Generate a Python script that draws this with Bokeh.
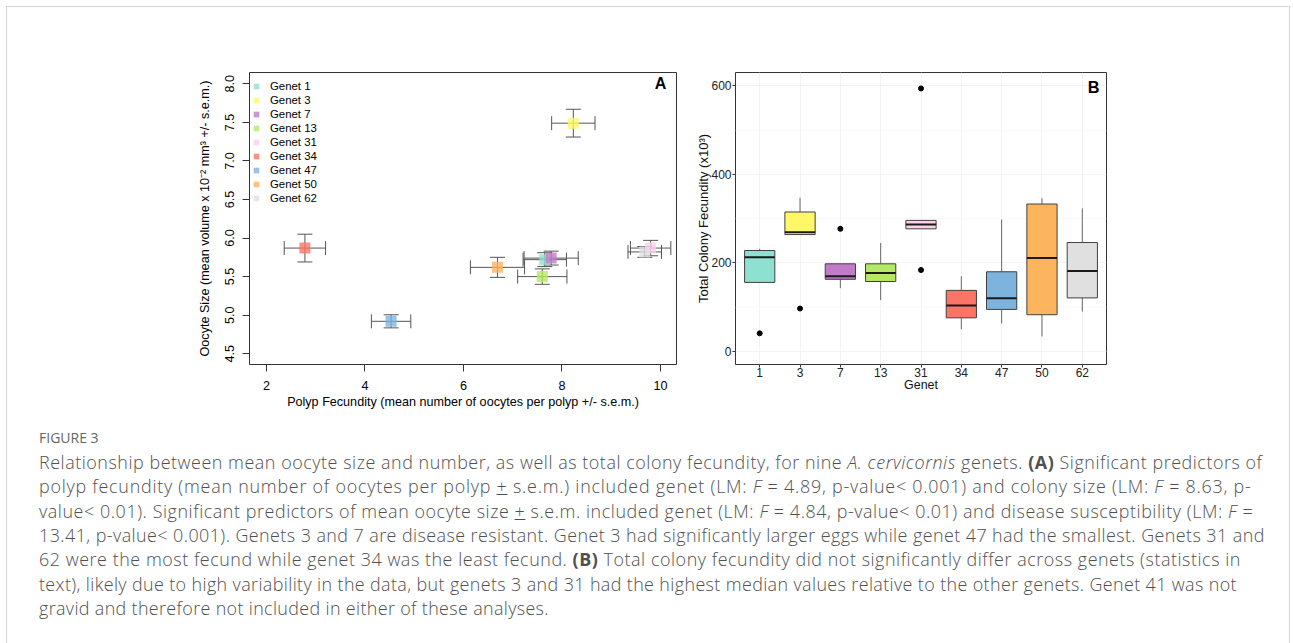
from bokeh.plotting import figure
from bokeh.models import (Whisker, TeeHead, ColumnDataSource, Legend, LegendItem,
                          Label, Range1d, FixedTicker, Div, CustomJSTickFormatter)
from bokeh.layouts import row, column
from bokeh.embed import file_html
from bokeh.resources import INLINE

# ---------------- data ----------------
genets = ["1", "3", "7", "13", "31", "34", "47", "50", "62"]
colors = ["#8EE0D0", "#FFF766", "#C27BC9", "#B5E865", "#FDD0EC",
          "#FB7466", "#7DB4DE", "#FDB45E", "#E0E0E0"]

# Panel A: polyp fecundity (x) vs oocyte size (y), mean +/- s.e.m.
polyp_mean = [7.65, 8.23, 7.78, 7.60, 9.80, 2.78, 4.53, 6.69, 9.68]
polyp_sem = [0.44, 0.44, 0.55, 0.50, 0.41, 0.42, 0.40, 0.55, 0.34]
oocyte_mean = [5.72, 7.49, 5.74, 5.50, 5.87, 5.87, 4.92, 5.62, 5.82]
oocyte_sem = [0.09, 0.18, 0.09, 0.10, 0.10, 0.18, 0.085, 0.13, 0.07]

# Panel B: total colony fecundity (x10^3) box statistics
box_q1 = [156, 264, 163, 158, 277, 76, 95, 83, 121]
box_median = [213, 269, 170, 177, 287, 104, 120, 211, 182]
box_q3 = [228, 315, 198, 198, 296, 138, 180, 333, 246]
whisker_low = [156, 264, 143, 116, 277, 50, 63, 34, 90]
whisker_high = [232, 347, 198, 245, 296, 170, 298, 346, 323]
outlier_genet = ["1", "3", "7", "31", "31"]
outlier_value = [41, 97, 277, 594, 184]

xticks_A = [2, 4, 6, 8, 10]
yticks_A = [4.5, 5.0, 5.5, 6.0, 6.5, 7.0, 7.5, 8.0]
yticks_B = [0, 200, 400, 600]

caption_title = "FIGURE 3"
caption_lines = [
    "Relationship between mean oocyte size and number, as well as total colony fecundity, for nine <i>A. cervicornis</i> genets. <b>(A)</b> Significant predictors of",
    "polyp fecundity (mean number of oocytes per polyp <u>+</u> s.e.m.) included genet (LM: <i>F</i> = 4.89, p-value&lt; 0.001) and colony size (LM: <i>F</i> = 8.63, p-",
    "value&lt; 0.01). Significant predictors of mean oocyte size <u>+</u> s.e.m. included genet (LM: <i>F</i> = 4.84, p-value&lt; 0.01) and disease susceptibility (LM: <i>F</i> =",
    "13.41, p-value&lt; 0.001). Genets 3 and 7 are disease resistant. Genet 3 had significantly larger eggs while genet 47 had the smallest. Genets 31 and",
    "62 were the most fecund while genet 34 was the least fecund. <b>(B)</b> Total colony fecundity did not significantly differ across genets (statistics in",
    "text), likely due to high variability in the data, but genets 3 and 31 had the highest median values relative to the other genets. Genet 41 was not",
    "gravid and therefore not included in either of these analyses.",
]
caption_letter_spacing = [0.55, 0.77, 0.57, 0.44, 0.55, 0.39, 0.36]

FONT = "Liberation Sans"

# ---------------- Panel A ----------------
pA = figure(width=690, height=414, x_range=Range1d(1.655, 10.325),
            y_range=Range1d(4.36, 8.147), output_backend="svg",
            toolbar_location=None, min_border_left=249, min_border_right=14,
            min_border_top=72, min_border_bottom=50)
pA.grid.visible = False
pA.outline_line_color = "#333333"
pA.outline_line_width = 1
pA.outline_line_alpha = 1

srcA = ColumnDataSource(dict(
    x=polyp_mean, y=oocyte_mean,
    xl=[m - s for m, s in zip(polyp_mean, polyp_sem)],
    xu=[m + s for m, s in zip(polyp_mean, polyp_sem)],
    yl=[m - s for m, s in zip(oocyte_mean, oocyte_sem)],
    yu=[m + s for m, s in zip(oocyte_mean, oocyte_sem)],
))

items = []
for i, g in enumerate(genets):
    r = pA.scatter(x=[polyp_mean[i]], y=[oocyte_mean[i]], marker="square",
                   size=11, fill_color=colors[i], line_color=None, fill_alpha=0.8)
    items.append(LegendItem(label="Genet " + g, renderers=[r]))

err_col = "#555555"
pA.add_layout(Whisker(source=srcA, base="y", lower="xl", upper="xu", dimension="width",
                      line_color=err_col, line_width=1,
                      lower_head=TeeHead(size=14, line_color=err_col, line_width=1),
                      upper_head=TeeHead(size=14, line_color=err_col, line_width=1)))
pA.add_layout(Whisker(source=srcA, base="x", lower="yl", upper="yu", dimension="height",
                      line_color=err_col, line_width=1,
                      lower_head=TeeHead(size=15, line_color=err_col, line_width=1),
                      upper_head=TeeHead(size=15, line_color=err_col, line_width=1)))

legA = Legend(items=items, location=(0, 159), border_line_color=None,
              background_fill_alpha=0, padding=3, margin=0, spacing=0,
              glyph_width=14, glyph_height=14, label_height=14,
              label_standoff=7, label_text_font=FONT, label_text_font_size="11.4px",
              label_text_color="#000000")
pA.add_layout(legA)

for ax in (pA.xaxis[0], pA.yaxis[0]):
    ax.axis_line_color = None
    ax.major_tick_line_color = "#333333"
    ax.major_tick_out = 7
    ax.major_tick_in = 0
    ax.minor_tick_line_color = None
    ax.major_label_text_font = FONT
    ax.major_label_text_font_size = "12.6px"
    ax.major_label_text_color = "#000000"
    ax.axis_label_text_font = FONT
    ax.axis_label_text_font_size = "12.6px"
    ax.axis_label_text_font_style = "normal"
    ax.axis_label_text_color = "#000000"

pA.xaxis.ticker = FixedTicker(ticks=xticks_A)
pA.yaxis.ticker = FixedTicker(ticks=yticks_A)
pA.yaxis.formatter = CustomJSTickFormatter(code="return tick.toFixed(1);")
pA.yaxis.major_label_orientation = "vertical"
pA.xaxis.major_label_standoff = 9
pA.yaxis.major_label_standoff = 8
pA.xaxis.axis_label_standoff = 2
pA.yaxis.axis_label_standoff = 11
pA.xaxis.axis_label = "Polyp Fecundity (mean number of oocytes per polyp +/- s.e.m.)"
pA.yaxis.axis_label = "Oocyte Size (mean volume x 10\u207b\u00b2 mm\u00b3 +/- s.e.m.)"

pA.add_layout(Label(x=10, y=8, text="A", text_align="center", text_baseline="middle",
                    text_font=FONT, text_font_size="16px", text_font_style="bold",
                    text_color="#000000"))

# ---------------- Panel B ----------------
pos = list(range(1, len(genets) + 1))
pB = figure(width=600, height=414, x_range=Range1d(0.4, 9.6),
            y_range=Range1d(-29.4, 630), output_backend="svg",
            toolbar_location=None, min_border_left=45, min_border_right=184,
            min_border_top=72, min_border_bottom=50)
pB.outline_line_color = "#333333"
pB.outline_line_width = 1
pB.outline_line_alpha = 1
pB.xgrid.ticker = FixedTicker(ticks=pos)
pB.ygrid.ticker = FixedTicker(ticks=yticks_B, minor_ticks=[100, 300, 500])
pB.xgrid.grid_line_color = "#F3F3F3"
pB.ygrid.grid_line_color = "#F3F3F3"
pB.ygrid.minor_grid_line_color = "#F8F8F8"

srcB = ColumnDataSource(dict(
    x=pos, q1=box_q1, q3=box_q3, med=box_median, lo=whisker_low, hi=whisker_high,
    color=colors, x0=[p - 0.375 for p in pos], x1=[p + 0.375 for p in pos],
))
pB.segment(x0="x", x1="x", y0="q3", y1="hi", source=srcB, line_color="#666666", line_width=1)
pB.segment(x0="x", x1="x", y0="q1", y1="lo", source=srcB, line_color="#666666", line_width=1)
pB.vbar(x="x", width=0.75, top="q3", bottom="q1", source=srcB, fill_color="color",
        line_color="#404040", line_width=1)
pB.segment(x0="x0", x1="x1", y0="med", y1="med", source=srcB, line_color="#1a1a1a",
           line_width=2)
pB.scatter(x=[pos[genets.index(g)] for g in outlier_genet], y=outlier_value, size=5,
           fill_color="#000000", line_color="#000000")

for ax in (pB.xaxis[0], pB.yaxis[0]):
    ax.axis_line_color = None
    ax.major_tick_line_color = "#333333"
    ax.major_tick_out = 3
    ax.major_tick_in = 0
    ax.minor_tick_line_color = None
    ax.major_label_text_font = FONT
    ax.major_label_text_font_size = "12px"
    ax.major_label_text_color = "#222222"
    ax.axis_label_text_font = FONT
    ax.axis_label_text_font_size = "12.4px"
    ax.axis_label_text_font_style = "normal"
    ax.axis_label_text_color = "#111111"
pB.yaxis.axis_label_text_font_size = "13px"
pB.xaxis.ticker = FixedTicker(ticks=pos)
pB.xaxis.major_label_overrides = {p: g for p, g in zip(pos, genets)}
pB.yaxis.ticker = FixedTicker(ticks=yticks_B)
pB.xaxis.major_label_standoff = 0
pB.yaxis.major_label_standoff = 1
pB.xaxis.axis_label_standoff = -2
pB.yaxis.axis_label_standoff = -3
pB.xaxis.axis_label = "Genet"
pB.yaxis.axis_label = "Total Colony Fecundity (x10\u00b3)"

pB.add_layout(Label(x=9.28, y=598, text="B", text_align="center", text_baseline="middle",
                    text_font=FONT, text_font_size="16.3px", text_font_style="bold",
                    text_color="#000000"))

# ---------------- caption ----------------
body = "<br>".join(
    '<span style="letter-spacing:%.2fpx;">%s</span>' % (ls, line)
    for ls, line in zip(caption_letter_spacing, caption_lines)
).replace("<b>", '<b style="font-weight:700;">')
html = (
    '<div style="position:absolute;left:1px;top:-413px;width:1284px;height:700px;'
    'border:1px solid #d4d4d4;pointer-events:none;"></div>'
    '<div style="font-family:\'Open Sans\',sans-serif;font-weight:300;color:#505050;'
    'white-space:nowrap;padding-left:34px;">'
    '<div style="font-size:14px;font-weight:400;color:#666666;line-height:24px;margin-top:7px;">'
    + caption_title + '</div>'
    '<div style="font-size:17.9px;line-height:24.35px;margin-top:0px;">'
    + body + '</div>'
    '</div>'
)
cap = Div(text=html, width=1290, height=225)

layout = column(row(pA, pB), cap)

open("out.html", "w").write(file_html(layout, INLINE))
